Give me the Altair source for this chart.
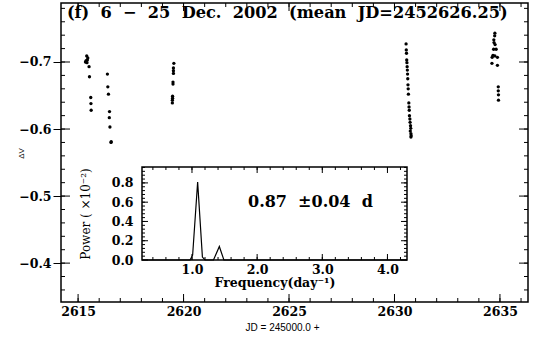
import altair as alt
import pandas as pd

# ---------------- data ----------------
# night 1 (JD 2615.x)
n1_jd = [2615.41, 2615.46, 2615.44, 2615.38, 2615.35, 2615.42, 2615.52, 2615.54, 2615.60, 2615.61, 2615.62]
n1_dv = [-0.709, -0.706, -0.703, -0.702, -0.700, -0.699, -0.693, -0.678, -0.647, -0.638, -0.628]
# night 2 (JD 2616.x)
n2_jd = [2616.39, 2616.41, 2616.44, 2616.49, 2616.48, 2616.51, 2616.56, 2616.57]
n2_dv = [-0.682, -0.663, -0.652, -0.626, -0.617, -0.603, -0.580, -0.581]
# night 3 (JD 2619.x)
n3_jd = [2619.54, 2619.52, 2619.52, 2619.52, 2619.50, 2619.50, 2619.48, 2619.48, 2619.47, 2619.47]
n3_dv = [-0.698, -0.691, -0.687, -0.683, -0.670, -0.667, -0.649, -0.646, -0.643, -0.639]
# night 4 (JD 2630.x)
n4_jd = [2630.55, 2630.56, 2630.57, 2630.58, 2630.59, 2630.60, 2630.61, 2630.62,
         2630.63, 2630.64, 2630.65, 2630.66, 2630.68, 2630.69, 2630.70, 2630.71,
         2630.73, 2630.74, 2630.76, 2630.77, 2630.75, 2630.78, 2630.79, 2630.78]
n4_dv = [-0.727, -0.718, -0.713, -0.703, -0.699, -0.693, -0.688, -0.682,
         -0.675, -0.666, -0.660, -0.652, -0.639, -0.633, -0.628, -0.620,
         -0.615, -0.610, -0.605, -0.601, -0.597, -0.593, -0.590, -0.588]
# night 5 (JD 2634.x)
n5_jd = [2634.76, 2634.75, 2634.71, 2634.72, 2634.77, 2634.70, 2634.82, 2634.67, 2634.76,
         2634.63, 2634.88, 2634.62, 2634.88, 2634.92, 2634.92, 2634.93, 2634.93]
n5_dv = [-0.743, -0.739, -0.733, -0.729, -0.726, -0.719, -0.719, -0.710, -0.709,
         -0.707, -0.707, -0.698, -0.695, -0.663, -0.657, -0.651, -0.643]

# periodogram (inset)
freq = [0.233, 0.97, 1.01, 1.087, 1.16, 1.20, 1.33, 1.42, 1.49, 4.30]
power = [0.0, 0.0, 0.05, 0.81, 0.03, 0.0, 0.0, 0.14, 0.0, 0.0]

# tick values / labels
x_major = [2615, 2620, 2625, 2630, 2635]
x_minor = [2615, 2616, 2617, 2618, 2619, 2620, 2621, 2622, 2623, 2624, 2625,
           2626, 2627, 2628, 2629, 2630, 2631, 2632, 2633, 2634, 2635, 2636]
y_major = [-0.7, -0.6, -0.5, -0.4]
y_minor = [-0.78, -0.76, -0.74, -0.72, -0.70, -0.68, -0.66, -0.64, -0.62, -0.60,
           -0.58, -0.56, -0.54, -0.52, -0.50, -0.48, -0.46, -0.44, -0.42, -0.40,
           -0.38, -0.36]
fx_major = [1.0, 2.0, 3.0, 4.0]
fx_minor = [0.4, 0.6, 0.8, 1.0, 1.2, 1.4, 1.6, 1.8, 2.0, 2.2, 2.4, 2.6, 2.8, 3.0,
            3.2, 3.4, 3.6, 3.8, 4.0, 4.2]
py_major = [0.0, 0.2, 0.4, 0.6, 0.8]
py_minor = [0.04, 0.08, 0.12, 0.16, 0.20, 0.24, 0.28, 0.32, 0.36, 0.40, 0.44, 0.48,
            0.52, 0.56, 0.60, 0.64, 0.68, 0.72, 0.76, 0.80, 0.84, 0.88, 0.92, 0.96]

NB = "\u00a0"
title_text = ("(f)" + NB * 2 + "6" + NB * 2 + "\u2212" + NB * 2 + "25" + NB * 2 + "Dec."
              + NB * 2 + "2002" + NB * 2 + "(mean" + NB * 2 + "JD=2452626.25)")
period_text = "0.87" + NB * 2 + "\u00b10.04" + NB * 2 + "d"

# ---------------- scales ----------------
X0, X1 = 2614.19, 2636.33
Y0, Y1 = -0.788, -0.342
FX0, FX1 = 0.233, 4.30
PY0, PY1 = 0.0, 0.965

xs = alt.Scale(domain=[X0, X1], nice=False, zero=False)
ys = alt.Scale(domain=[Y0, Y1], nice=False, zero=False, reverse=True)
fxs = alt.Scale(domain=[FX0, FX1], range=[81, 346], nice=False, zero=False)
pys = alt.Scale(domain=[PY0, PY1], range=[257, 164], nice=False, zero=False)

# ---------------- axes (same object in every layer of a panel) ----------------
x_axis = alt.Axis(
    values=x_major, format="d", ticks=False, tickSize=0, domain=False, grid=False,
    labelPadding=3, title="JD = 245000.0 +", titleFont="Liberation Sans",
    titleFontSize=10, titleFontWeight="normal", titleX=221, titleY=20,
    titleBaseline="top")
y_axis = alt.Axis(
    values=y_major, format=".1f", ticks=True, tickSize=8, tickColor="black",
    tickWidth=1, domain=False, grid=False, labelPadding=2,
    title="\u0394V", titleFont="Liberation Sans", titleFontSize=8,
    titleFontWeight="normal", titleX=-40, titleY=150, titleBaseline="middle")
fx_axis = alt.Axis(
    orient="bottom", offset=-42, values=fx_major, format=".1f", ticks=False,
    tickSize=0, domain=False, grid=False, labelPadding=3,
    title="Frequency(day\u207b\u00b9)", titleFont="DejaVu Serif",
    titleFontSize=12.5, titleFontWeight="bold", titlePadding=1)
py_axis = alt.Axis(
    orient="left", offset=-81, values=py_major, format=".1f", ticks=False,
    tickSize=0, domain=False, grid=False, labelPadding=9,
    title="Power ( \u00d710\u207b\u00b2)", titleFont="DejaVu Serif",
    titleFontSize=12, titleFontWeight="normal", titlePadding=19)

one = pd.DataFrame({"k": [0]})

pts = pd.DataFrame({
    "jd": n1_jd + n2_jd + n3_jd + n4_jd + n5_jd,
    "dv": n1_dv + n2_dv + n3_dv + n4_dv + n5_dv,
})


def vticks(vals, xscale, yscale, xaxis, yaxis, edge, size, inward_sign):
    df = pd.DataFrame({"v": vals})
    return alt.Chart(df).mark_tick(
        orient="vertical", size=size, thickness=1, color="black", opacity=1,
        yOffset=inward_sign * size / 2,
    ).encode(
        x=alt.X("v:Q", scale=xscale, axis=xaxis),
        y=alt.Y(datum=edge, scale=yscale, axis=yaxis),
    )


def hticks(vals, xscale, yscale, xaxis, yaxis, edge, size, inward_sign):
    df = pd.DataFrame({"v": vals})
    return alt.Chart(df).mark_tick(
        orient="horizontal", size=size, thickness=1, color="black", opacity=1,
        xOffset=inward_sign * size / 2,
    ).encode(
        y=alt.Y("v:Q", scale=yscale, axis=yaxis),
        x=alt.X(datum=edge, scale=xscale, axis=xaxis),
    )


points = alt.Chart(pts).mark_circle(size=11, color="black", opacity=1).encode(
    x=alt.X("jd:Q", scale=xs, axis=x_axis),
    y=alt.Y("dv:Q", scale=ys, axis=y_axis),
)

title_mark = alt.Chart(one).mark_text(
    align="left", baseline="middle", font="DejaVu Serif", fontWeight="bold",
    fontSize=16.2, color="black",
).encode(
    x=alt.X(datum=2614.47, scale=xs, axis=x_axis),
    y=alt.Y(datum=-0.773, scale=ys, axis=y_axis),
    text=alt.value(title_text),
)

M = (xs, ys, x_axis, y_axis)
main = alt.layer(
    points,
    vticks(x_major, *M, Y1, 8, -1), vticks(x_minor, *M, Y1, 4, -1),
    vticks(x_major, *M, Y0, 8, 1), vticks(x_minor, *M, Y0, 4, 1),
    hticks(y_major, *M, X0, 9, 1), hticks(y_minor, *M, X0, 4, 1),
    hticks(y_major, *M, X1, 9, -1), hticks(y_minor, *M, X1, 4, -1),
    title_mark,
)

frame = alt.Chart(one).mark_rect(fill="white", stroke="black", strokeWidth=1.5).encode(
    x=alt.X(datum=FX0, scale=fxs, axis=fx_axis),
    x2=alt.X2(datum=FX1),
    y=alt.Y(datum=PY0, scale=pys, axis=py_axis),
    y2=alt.Y2(datum=PY1),
)

pg = pd.DataFrame({"f": freq, "p": power})
curve = alt.Chart(pg).mark_line(color="black", strokeWidth=1.2).encode(
    x=alt.X("f:Q", scale=fxs, axis=fx_axis),
    y=alt.Y("p:Q", scale=pys, axis=py_axis),
    order=alt.Order("f:Q"),
)

period_mark = alt.Chart(one).mark_text(
    align="left", baseline="middle", font="DejaVu Serif", fontWeight="bold",
    fontSize=16, color="black",
).encode(
    x=alt.X(datum=1.86, scale=fxs, axis=fx_axis),
    y=alt.Y(datum=0.60, scale=pys, axis=py_axis),
    text=alt.value(period_text),
)

I = (fxs, pys, fx_axis, py_axis)
inset = alt.layer(
    frame, curve,
    vticks(fx_major, *I, PY0, 6, -1), vticks(fx_minor, *I, PY0, 3, -1),
    vticks(fx_major, *I, PY1, 6, 1), vticks(fx_minor, *I, PY1, 3, 1),
    hticks(py_major, *I, FX0, 6, 1), hticks(py_minor, *I, FX0, 3, 1),
    hticks(py_major, *I, FX1, 6, -1), hticks(py_minor, *I, FX1, 3, -1),
    period_mark,
)

chart = alt.layer(main, inset).resolve_scale(
    x="independent", y="independent"
).properties(
    width=467, height=299,
    autosize=alt.AutoSizeParams(type="none"),
    padding={"left": 61, "top": 3, "right": 5, "bottom": 35},
    background="white",
).configure_view(
    stroke="black", strokeWidth=1.5,
).configure_axis(
    labelFont="DejaVu Serif", labelFontWeight="bold", labelFontSize=12.5,
    labelColor="black", titleColor="black",
)

chart.save("out.html", embed_options={"renderer": "svg", "actions": False})
